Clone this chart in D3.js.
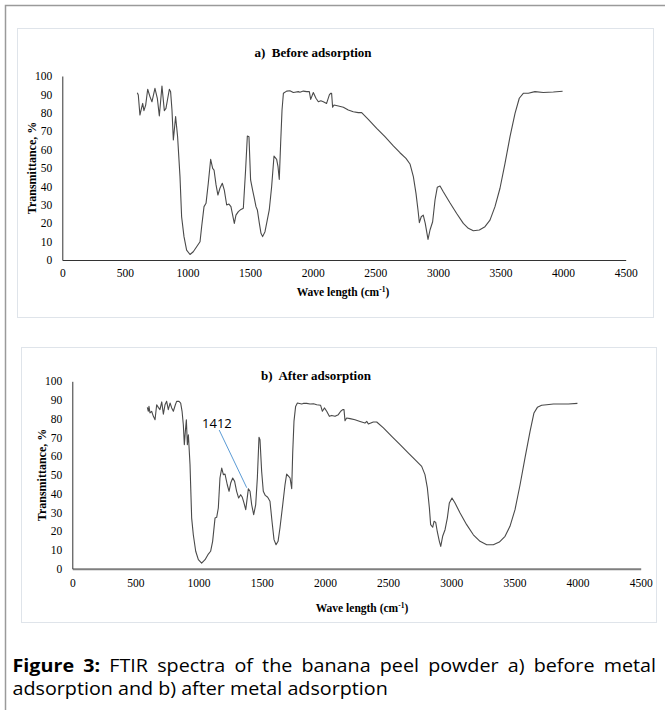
<!DOCTYPE html>
<html>
<head>
<meta charset="utf-8">
<script src="https://cdn.jsdelivr.net/npm/d3@7"></script>
<style>
  html, body { margin: 0; padding: 0; background: #fff; }
  svg { display: block; }
</style>
</head>
<body>
<svg id="fig" width="665" height="710"></svg>
<script>
// ---------- data ----------
const xTickValues = [0, 500, 1000, 1500, 2000, 2500, 3000, 3500, 4000, 4500];
const yTickValues = [0, 10, 20, 30, 40, 50, 60, 70, 80, 90, 100];

const waveA = [599,607,620,629,642,652,666,682,700,716,740,759,775,796,815,828,855,865,876,887,905,921,940,953,972,993,1020,1046,1073,1100,1113,1132,1148,1166,1185,1201,1212,1228,1243,1259,1278,1294,1313,1331,1347,1374,1387,1406,1427,1446,1464,1478,1491,1504,1520,1534,1547,1558,1574,1587,1600,1619,1637,1653,1672,1691,1712,1723,1733,1744,1755,1766,1792,1818,1845,1858,1885,1898,1925,1952,1973,1984,2005,2026,2045,2065,2085,2111,2133,2143,2151,2159,2170,2205,2245,2284,2324,2364,2391,2444,2511,2577,2644,2697,2745,2777,2804,2825,2841,2852,2867,2883,2899,2921,2937,2958,2977,2995,3017,3043,3096,3150,3203,3243,3283,3331,3376,3416,3456,3496,3536,3576,3616,3650,3682,3722,3775,3842,3922,3996];
const transA = [90.9,89.7,78.8,81.5,85.1,81.2,84.2,92.8,88.8,86,93.3,87.9,78.3,94.6,81.2,82.4,92.8,91.5,81.5,65.2,77.9,67,45.3,23.5,12.7,5.4,3.0,4.5,7.2,9.9,18.1,29,30.8,41.7,54.7,49.8,48.9,40.8,35.3,39,41.7,38,29.9,30.4,29,19.9,24.4,26.3,27.5,28.1,48.9,67.4,67,43.5,38,33.5,29,27.2,19.9,14.5,12.7,15.4,21.7,27.2,39.8,56.5,54.7,50.7,43.8,63.4,81.5,90.6,91.8,92,91,91.2,91.5,91.2,91.8,91.5,91.5,87.3,91,87.9,86,86.5,86,85.1,89.7,90.6,90.6,83,84.2,83.7,83,81.5,80.6,80.1,80.1,76.4,71.5,67,62,58.3,55.2,52.2,45.3,36.2,27.2,20.3,23.5,24.4,19.9,11.2,16.3,20.8,32.6,39.5,40.2,37.1,31.1,25.3,19.9,17.2,15.9,16.3,18.1,21.7,29,39,52.5,67,79.7,87.9,90.6,90.6,91.5,91,91.3,91.7];

const waveB = [594,602,607,615,628,642,655,668,681,694,708,721,734,747,760,774,787,800,816,826,845,858,869,879,887,895,903,911,919,932,945,958,977,998,1024,1051,1077,1095,1111,1130,1143,1156,1169,1183,1196,1209,1227,1241,1254,1270,1285,1301,1317,1333,1346,1359,1373,1380,1394,1407,1420,1436,1452,1465,1478,1486,1499,1512,1528,1547,1565,1581,1597,1613,1629,1644,1666,1684,1697,1713,1724,1737,1745,1755,1768,1782,1816,1829,1856,1882,1910,1935,1966,1980,1996,2014,2035,2054,2080,2106,2125,2141,2151,2159,2172,2199,2238,2278,2317,2331,2344,2383,2410,2463,2529,2595,2661,2713,2766,2792,2811,2827,2837,2853,2864,2877,2890,2906,2917,2932,2951,2969,2985,3006,3030,3070,3122,3175,3228,3281,3333,3381,3426,3465,3505,3545,3584,3624,3655,3682,3716,3756,3809,3861,3927,3999];
const transB = [86.1,84,86.6,83.1,84,81.3,79.5,87.5,86.1,84.9,89,82.5,87.5,89.3,84.9,88.4,85.8,84,87.5,89.3,89.3,88.4,84,76.8,66.2,73.3,79.5,66.2,71.5,55.5,27,18.1,9.3,4.8,3.0,4.8,7.8,9.3,14.6,27,27.4,32.4,48.4,53.7,50.2,50.5,44.8,41.3,45.7,48.4,46.6,41.3,37.7,39.5,38.1,35.1,31.5,35.1,42.7,41.3,34.2,28.8,34.2,48.4,70.1,68.8,52,41.3,39.1,38.1,36,25.3,15.5,12.8,14.6,21.7,34.2,44.8,50.5,49.3,48.4,42.7,62,78.6,86.6,88.4,87.9,88.2,88.2,87.9,88,87.5,87.2,84,85.8,84,81.3,81.8,81.3,82.2,84,84.9,84.9,79,80.4,80.1,79.5,78.6,77.7,78.6,77.2,78.3,78.3,75.1,70.6,66.2,61.7,58.2,54.6,50.2,43.1,32.4,23.5,22.1,25.3,24.7,19.6,14.6,11.9,17.3,20.8,27,35.1,37.7,35.1,29.7,23.5,18.1,14.6,12.8,12.8,14.2,17.3,22.6,31.5,44.8,59.1,73.3,83.1,86.1,87.2,87.5,87.9,87.9,87.9,88.2];

// annotation on panel b (data coordinates)
const annotLabel = "1412";
const annotText = [1027, 75];
const annotLine = [[1163, 74], [1381, 43.2]];

const titleA = "a)  Before adsorption";
const titleB = "b)  After adsorption";
const yTitle = "Transmittance, %";
const xTitleMain = "Wave length (cm";
const xTitleSup = "-1";

// ---------- drawing ----------
const svg = d3.select("#fig");
const serif = "'Liberation Serif', 'Times New Roman', serif";
const sans = "'Open Sans', 'Noto Sans', sans-serif";

svg.append("path")
  .attr("d", "M5.5,710V5.5H665")
  .attr("fill", "none").attr("stroke", "#9a9a9a").attr("stroke-width", 1.5);

function panel(cfg) {
  const g = svg.append("g");
  g.append("rect")
    .attr("x", cfg.box[0] + 0.5).attr("y", cfg.box[1] + 0.5)
    .attr("width", cfg.box[2] - cfg.box[0]).attr("height", cfg.box[3] - cfg.box[1])
    .attr("fill", "#fff").attr("stroke", "#dfe4ea").attr("stroke-width", 1);

  const x = d3.scaleLinear().domain([0, 4500]).range([cfg.left, cfg.right]);
  const y = d3.scaleLinear().domain([0, 100]).range([cfg.bottom, cfg.top]);

  const xAxis = d3.axisBottom(x).tickValues(xTickValues).tickFormat(d3.format("d"))
    .tickSize(0).tickSizeOuter(0).tickPadding(cfg.xPad);
  const yAxis = d3.axisLeft(y).tickValues(yTickValues).tickFormat(d3.format("d"))
    .tickSize(0).tickSizeOuter(0).tickPadding(10);

  const gx = g.append("g").attr("transform", `translate(0,${cfg.bottom})`).call(xAxis);
  const gy = g.append("g").attr("transform", `translate(${cfg.left},0)`).call(yAxis);
  [gx, gy].forEach(a => {
    a.selectAll("text").attr("font-family", serif).attr("font-size", 11.5).attr("fill", "#000");
    a.attr("font-family", serif);
  });
  gx.select(".domain").attr("stroke", cfg.xAxisColor).attr("stroke-width", cfg.xAxisWidth);
  gy.select(".domain").attr("stroke", "#333").attr("stroke-width", 1);

  const data = cfg.waves.map((w, i) => [w, cfg.vals[i]]);
  g.append("path")
    .datum(data)
    .attr("fill", "none").attr("stroke", "#4a4a4a").attr("stroke-width", 1.1)
    .attr("stroke-linejoin", "round")
    .attr("d", d3.line().x(d => x(d[0])).y(d => y(d[1])));

  g.append("text")
    .attr("x", cfg.titleX).attr("y", cfg.titleY)
    .attr("text-anchor", "middle").attr("font-family", serif)
    .attr("font-weight", "bold").attr("font-size", 13)
    .attr("xml:space", "preserve")
    .text(cfg.title);

  g.append("text")
    .attr("transform", `translate(${cfg.yTitleX},${(cfg.top + cfg.bottom) / 2}) rotate(-90)`)
    .attr("text-anchor", "middle").attr("font-family", serif)
    .attr("font-weight", "bold").attr("font-size", 12)
    .text(yTitle);

  const xt = g.append("text")
    .attr("x", cfg.xTitleX).attr("y", cfg.xTitleY)
    .attr("text-anchor", "middle").attr("font-family", serif)
    .attr("font-weight", "bold").attr("font-size", 11.5);
  xt.append("tspan").text(xTitleMain);
  xt.append("tspan").attr("font-size", 7.5).attr("dy", -4.5).text(xTitleSup);
  xt.append("tspan").attr("dy", 4.5).text(")");

  return {x, y, g};
}

panel({
  box: [17, 28, 653, 317],
  left: 62.3, right: 625.7, top: 76, bottom: 260,
  xPad: 9, xAxisColor: "#333", xAxisWidth: 1,
  waves: waveA, vals: transA,
  title: titleA, titleX: 313, titleY: 57,
  yTitleX: 36, xTitleX: 343, xTitleY: 296
});

const pb = panel({
  box: [21, 347, 656, 622],
  left: 72.3, right: 640.7, top: 381.3, bottom: 568.7,
  xPad: 10, xAxisColor: "#7f7f7f", xAxisWidth: 2,
  waves: waveB, vals: transB,
  title: titleB, titleX: 316, titleY: 380,
  yTitleX: 46, xTitleX: 362, xTitleY: 612
});

pb.g.append("line")
  .attr("x1", pb.x(annotLine[0][0])).attr("y1", pb.y(annotLine[0][1]))
  .attr("x2", pb.x(annotLine[1][0])).attr("y2", pb.y(annotLine[1][1]))
  .attr("stroke", "#5b9bd5").attr("stroke-width", 1);
pb.g.append("text")
  .attr("x", pb.x(annotText[0])).attr("y", pb.y(annotText[1]))
  .attr("font-family", sans).attr("font-size", 13).attr("fill", "#000")
  .text(annotLabel);

// ---------- caption ----------
const cap1 = [["Figure", true], ["3:", true], ["FTIR", false], ["spectra", false], ["of", false], ["the", false], ["banana", false], ["peel", false], ["powder", false], ["a)", false], ["before", false], ["metal", false]];
const cap2 = "adsorption and b) after metal adsorption";
const capLeft = 12.5, capRight = 656, cap2Right = 388, capSize = 18.5;

const capG = svg.append("g");
const tmp = capG.append("text").attr("font-family", sans).attr("font-size", capSize);
tmp.text(cap2);
const w2 = tmp.node().getComputedTextLength();
const sx = (cap2Right - capLeft) / w2;
const widths = cap1.map(([w, b]) => {
  tmp.attr("font-weight", b ? "bold" : "normal").text(w);
  return tmp.node().getComputedTextLength();
});
tmp.remove();
capG.attr("transform", `translate(${capLeft},0) scale(${sx},1)`);
const avail = (capRight - capLeft) / sx;
const gap = (avail - d3.sum(widths)) / (cap1.length - 1);
let cx = 0;
cap1.forEach(([w, b], i) => {
  capG.append("text").attr("x", cx).attr("y", 672)
    .attr("font-family", sans).attr("font-size", capSize)
    .attr("font-weight", b ? "bold" : "normal").attr("fill", "#000")
    .text(w);
  cx += widths[i] + gap;
});
capG.append("text").attr("x", 0).attr("y", 695)
  .attr("font-family", sans).attr("font-size", capSize).attr("fill", "#000")
  .text(cap2);
</script>
</body>
</html>
